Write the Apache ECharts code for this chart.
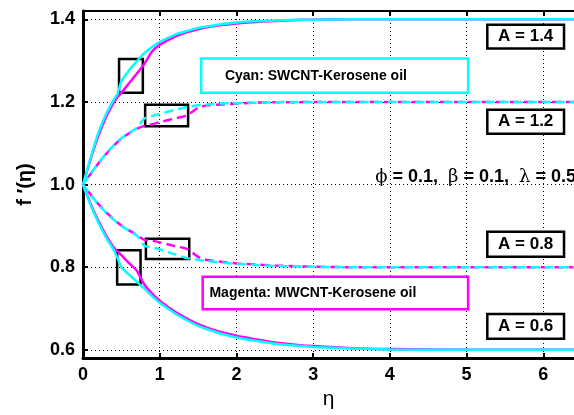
<!DOCTYPE html>
<html><head><meta charset="utf-8">
<script src="https://cdn.jsdelivr.net/npm/echarts@6/dist/echarts.min.js"></script>
<style>html,body{margin:0;padding:0;background:#fff}#c{width:574px;height:415px}</style>
</head><body><div id="c"></div>
<script>
const eta = [0,0.1,0.2,0.3,0.4,0.45,0.5,0.6,0.7,0.8,0.9,1.0,1.2,1.36,1.5,1.6,1.8,2.0,2.2,2.5,2.8,3.0,3.5,4.0,5.0,6.4];
const cyan14 = [1.000,1.065,1.125,1.170,1.205,1.220,1.250,1.276,1.298,1.318,1.333,1.345,1.363,1.372,1.379,1.382,1.388,1.392,1.395,1.397,1.399,1.399,1.400,1.400,1.400,1.400];
const mag14  = [1.000,1.062,1.118,1.163,1.198,1.212,1.222,1.245,1.268,1.292,1.322,1.338,1.358,1.369,1.376,1.380,1.386,1.390,1.393,1.396,1.398,1.399,1.400,1.400,1.400,1.400];
const cyan12 = [1.000,1.027,1.052,1.075,1.095,1.104,1.112,1.125,1.137,1.160,1.166,1.171,1.181,1.188,1.192,1.194,1.196,1.197,1.198,1.199,1.200,1.200,1.200,1.200,1.200,1.200];
const mag12  = [1.000,1.026,1.051,1.074,1.094,1.103,1.111,1.124,1.135,1.142,1.146,1.151,1.160,1.168,1.186,1.191,1.194,1.196,1.198,1.199,1.199,1.200,1.200,1.200,1.200,1.200];
const cyan08 = [1.000,0.975,0.952,0.932,0.915,0.907,0.900,0.888,0.877,0.852,0.848,0.843,0.831,0.822,0.818,0.815,0.811,0.808,0.806,0.803,0.802,0.801,0.800,0.800,0.800,0.800];
const mag08  = [1.000,0.976,0.953,0.933,0.916,0.908,0.901,0.889,0.878,0.866,0.864,0.860,0.851,0.844,0.825,0.818,0.813,0.809,0.807,0.804,0.802,0.801,0.800,0.800,0.800,0.800];
const cyan06 = [1.000,0.950,0.908,0.872,0.842,0.822,0.800,0.782,0.765,0.748,0.730,0.714,0.688,0.671,0.658,0.651,0.639,0.630,0.623,0.615,0.610,0.607,0.603,0.601,0.600,0.600];
const mag06  = [1.000,0.953,0.912,0.877,0.848,0.838,0.829,0.810,0.792,0.758,0.736,0.719,0.692,0.675,0.662,0.655,0.643,0.634,0.627,0.618,0.612,0.609,0.604,0.602,0.600,0.600];
const xTicks = [0,1,2,3,4,5,6];
const yTicks = [0.6,0.8,1.0,1.2,1.4];
const zoomBoxes = [[[0.47,1.222],[0.78,1.304]],[[0.81,1.141],[1.37,1.193]],[[0.445,0.758],[0.75,0.841]],[[0.82,0.820],[1.385,0.869]]];
const aLabels = ['A = 1.4','A = 1.2','A = 0.8','A = 0.6'];
const aBoxes = [[[5.27,1.329],[6.27,1.3866]],[[5.27,1.123],[6.27,1.181]],[[5.27,0.825],[6.27,0.886]],[[5.27,0.627],[6.27,0.687]]];
const fluidLabels = ['Cyan: SWCNT-Kerosene oil','Magenta: MWCNT-Kerosene oil'];
const fluidBoxes = [[[1.54,1.222],[5.02,1.305]],[[1.56,0.698],[5.02,0.777]]];
const paramPos = [3.81,1.017];

const CY = '#00ffff', MG = '#ff00ff';
const FONT = 'Liberation Sans, Arial, sans-serif';
function pairs(v){ return eta.map((e,i)=>[e,v[i]]); }
function curve(v,color,dashed,offset){
  return {type:'line', data:pairs(v), showSymbol:false, smooth:0.2, silent:true,
    lineStyle:{color:color, width:2.5, type: dashed?[9,5]:'solid', dashOffset: offset||0}, z:3};
}
const chart = echarts.init(document.getElementById('c'), null, {renderer:'canvas'});
const markData = [];
zoomBoxes.forEach(b=>markData.push([{coord:b[0], itemStyle:{color:'rgba(0,0,0,0)',borderColor:'#000',borderWidth:2.5}},{coord:b[1]}]));
aBoxes.forEach((b,i)=>markData.push([{coord:b[0], itemStyle:{color:'#fff',borderColor:'#000',borderWidth:2.5},
  label:{show:true, position:'inside', formatter:aLabels[i], color:'#000', fontFamily:FONT, fontWeight:'bold', fontSize:17}},{coord:b[1]}]));
fluidBoxes.forEach((b,i)=>markData.push([{coord:b[0], itemStyle:{color:'#fff',borderColor:i===0?CY:MG,borderWidth:2.5},
  label:{show:true, position:'insideLeft', distance: i===0?25:8, formatter:fluidLabels[i], color:'#000', fontFamily:FONT, fontWeight:'bold', fontSize:14}},{coord:b[1]}]));

chart.setOption({
  animation:false,
  grid:{left:83, top:11, width:494, bottom:51, containLabel:false},
  xAxis:[{type:'value', min:0, max:6.4, position:'bottom',
    name:'η', nameLocation:'middle', nameGap:30, nameTextStyle:{fontFamily:FONT, fontSize:21, color:'#000'},
    axisLine:{lineStyle:{color:'#000', width:3}},
    axisTick:{inside:true, length:5, customValues:xTicks, lineStyle:{color:'#000', width:2}},
    axisLabel:{customValues:xTicks, color:'#000', fontFamily:FONT, fontWeight:'bold', fontSize:18, margin:8},
    splitLine:{show:true, lineStyle:{color:'#000', width:1, type:[1,3]}}},
   {type:'value', min:0, max:6.4, position:'top',
    axisLine:{show:true, lineStyle:{color:'#000', width:2}},
    axisTick:{show:true, inside:true, length:5, customValues:xTicks, lineStyle:{color:'#000', width:2}},
    axisLabel:{show:false}, splitLine:{show:false}}],
  yAxis:{type:'value', min:0.58, max:1.42,
    name:'f ′(η)', nameLocation:'middle', nameGap:48, nameRotate:90,
    nameTextStyle:{fontFamily:FONT, fontSize:20, fontWeight:'bold', color:'#000'},
    axisLine:{show:true, lineStyle:{color:'#000', width:3}},
    axisTick:{show:true, inside:true, length:5, customValues:yTicks, lineStyle:{color:'#000', width:2}},
    axisLabel:{customValues:yTicks, formatter:v=>v.toFixed(1), color:'#000', fontFamily:FONT, fontWeight:'bold', fontSize:18, margin:8},
    splitLine:{show:true, lineStyle:{color:'#000', width:1, type:[1,3]}}},
  series:[
    {type:'line', data:[], silent:true, markArea:{silent:true, data:markData}, z:5,
     markPoint:{silent:true, symbol:'rect', symbolSize:0, data:[{coord:paramPos}],
       label:{show:true, position:'right', distance:0, formatter:'{g|ϕ}{b| = 0.1,  }{g|β}{b| = 0.1,  }{g|λ}{b| = 0.5}',
         rich:{g:{fontFamily:'DejaVu Serif, serif', fontSize:18, color:'#000'}, b:{fontFamily:FONT, fontWeight:'bold', fontSize:18, color:'#000'}}}}},
    curve(mag14, MG, false), curve(cyan14, CY, false),
    curve(mag12, MG, true, 6), curve(cyan12, CY, true),
    curve(mag08, MG, true, 6), curve(cyan08, CY, true),
    curve(mag06, MG, false), curve(cyan06, CY, false)
  ]
});
</script></body></html>
